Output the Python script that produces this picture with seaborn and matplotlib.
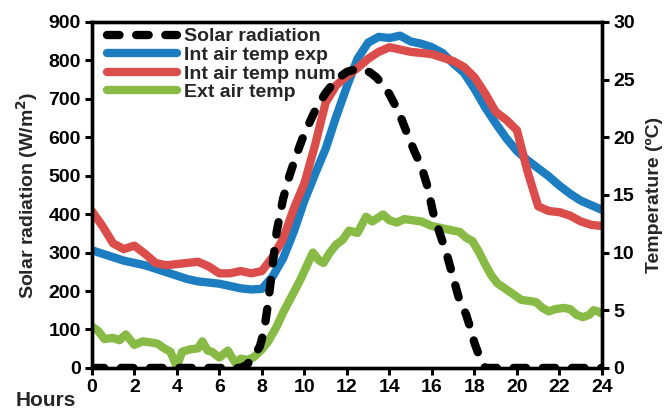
import matplotlib
matplotlib.use("Agg")
import matplotlib.pyplot as plt
import seaborn as sns
import numpy as np

sns.set_theme(style="white")
plt.rcParams['font.family'] = ['Liberation Sans', 'DejaVu Sans']
plt.rcParams['font.weight'] = 'bold'

# ---- data ----
solar_hours = [0, 1, 2, 3, 4, 5, 6, 7, 7.3, 7.6, 7.9, 8.1, 8.3, 8.5, 8.7, 9.0, 9.3, 9.6, 9.9,
               10.3, 10.6, 11.0, 11.5, 12.0, 12.5, 12.8, 13.1, 13.4, 13.7, 14.0, 14.3, 14.6,
               14.9, 15.2, 15.5, 15.8, 16.05, 16.4, 16.7, 17.0, 17.3, 17.6, 17.8, 18.0, 18.2,
               18.4, 18.5, 19, 20, 21, 22, 23, 24]
solar_rad = [0, 0, 0, 0, 0, 0, 0, 0, 8, 30, 55, 95, 170, 265, 355, 440, 500, 550, 595,
             645, 680, 715, 750, 770, 778, 776, 768, 755, 735, 712, 680, 643,
             600, 560, 525, 470, 405, 345, 295, 235, 175, 140, 105, 65, 35,
             10, 0, 0, 0, 0, 0, 0, 0]

int_hours = [0, 0.5, 1, 1.5, 2, 2.5, 3, 3.5, 4, 4.5, 5, 5.5, 6, 6.5, 7, 7.5, 8, 8.5, 9, 9.5,
             10, 10.5, 11, 11.5, 12, 12.5, 13, 13.5, 14, 14.5, 15, 15.5, 16, 16.5, 17, 17.5,
             18, 18.5, 19, 19.5, 20, 20.5, 21, 21.5, 22, 22.5, 23, 23.5, 24]
int_exp = [10.2, 9.9, 9.6, 9.3, 9.1, 8.9, 8.6, 8.3, 8.0, 7.7, 7.5, 7.4, 7.3, 7.1, 6.9, 6.8,
           6.85, 7.9, 9.5, 11.8, 14.5, 16.8, 19.0, 21.8, 24.4, 26.8, 28.2, 28.7, 28.6, 28.8,
           28.3, 28.1, 27.8, 27.3, 26.4, 25.6, 24.2, 22.6, 21.2, 19.9, 18.8, 18.0, 17.3,
           16.6, 15.8, 15.1, 14.5, 14.1, 13.7]
int_num = [13.6, 12.3, 10.8, 10.3, 10.6, 9.9, 9.1, 8.9, 9.0, 9.1, 9.2, 8.8, 8.2, 8.2, 8.4,
           8.2, 8.4, 9.6, 11.2, 13.8, 16.0, 19.3, 23.0, 24.5, 25.3, 26.0, 26.8, 27.4, 27.8,
           27.6, 27.4, 27.3, 27.2, 26.9, 26.6, 26.1, 25.2, 23.8, 22.2, 21.5, 20.6, 17.0,
           14.0, 13.6, 13.5, 13.2, 12.7, 12.4, 12.3]

ext_hours = [0, 0.3, 0.6, 1.0, 1.3, 1.6, 2.0, 2.4, 2.8, 3.1, 3.4, 3.7, 4.0, 4.25, 4.6, 5.0,
             5.2, 5.45, 5.65, 6.0, 6.4, 6.8, 7.0, 7.3, 7.6, 8.0, 8.3, 8.7, 9.0, 9.4, 9.8,
             10.1, 10.4, 10.7, 10.9, 11.2, 11.5, 11.8, 12.1, 12.5, 12.9, 13.2, 13.7, 14.0,
             14.35, 14.7, 15.1, 15.5, 16.0, 16.5, 17.0, 17.3, 17.6, 17.9, 18.2, 18.5, 18.8,
             19.1, 19.5, 19.9, 20.2, 20.6, 20.9, 21.2, 21.5, 21.8, 22.2, 22.5, 22.8, 23.1,
             23.4, 23.6, 23.8, 24]
ext_temp = [3.6, 3.2, 2.5, 2.6, 2.4, 2.9, 2.0, 2.3, 2.2, 2.1, 1.7, 1.4, 0.1, 1.4, 1.6, 1.7,
            2.3, 1.5, 1.4, 0.9, 1.5, 0.3, 0.8, 0.7, 0.9, 1.6, 2.3, 3.6, 4.8, 6.2, 7.6,
            8.8, 10.0, 9.3, 9.1, 10.0, 10.7, 11.1, 11.9, 11.7, 13.1, 12.7, 13.3, 12.8,
            12.6, 12.9, 12.8, 12.7, 12.3, 12.1, 11.9, 11.8, 11.3, 11.0, 10.1, 9.0, 8.0,
            7.3, 6.8, 6.3, 5.9, 5.8, 5.7, 5.2, 4.9, 5.1, 5.2, 5.1, 4.6, 4.4,
            4.6, 5.0, 4.9, 4.7]

x_ticks = list(range(0, 25, 2))
left_ticks = list(range(0, 901, 100))
right_ticks = list(range(0, 31, 5))

# ---- styles ----
C_BLUE = '#1C7DC0'
C_RED = '#DA4D4A'
C_GREEN = '#88BA46'
LW = 6.0
FS = 14

fig = plt.figure(figsize=(6.70, 4.12), dpi=100)
ax = fig.add_axes([0.137, 0.107, 0.7615, 0.840])
ax2 = ax.twinx()

sns.lineplot(x=solar_hours, y=solar_rad, ax=ax, color='black', lw=LW,
             linestyle=(0, (1.5, 2.0)), dash_capstyle='round',
             label='Solar radiation', legend=False, zorder=5)
sns.lineplot(x=int_hours, y=int_exp, ax=ax2, color=C_BLUE, lw=LW,
             label='Int air temp exp', legend=False, solid_joinstyle='round')
sns.lineplot(x=int_hours, y=int_num, ax=ax2, color=C_RED, lw=LW,
             label='Int air temp num', legend=False, solid_joinstyle='round')
sns.lineplot(x=ext_hours, y=ext_temp, ax=ax2, color=C_GREEN, lw=LW,
             label='Ext air temp', legend=False, solid_joinstyle='round')

# put solar line above temperature axes
ax.set_zorder(ax2.get_zorder() + 1)
ax.patch.set_visible(False)

ax.set_xlim(0, 24)
ax.set_ylim(0, 900)
ax2.set_ylim(0, 30)
ax.set_xticks(x_ticks)
ax.set_yticks(left_ticks)
ax2.set_yticks(right_ticks)

for a in (ax, ax2):
    for s in a.spines.values():
        s.set_linewidth(2.4)
        s.set_color('black')
    a.tick_params(axis='both', which='major', direction='out', length=5, width=2.2,
                  labelsize=FS, colors='black', pad=3)
    a.grid(False)
    for lab in a.get_xticklabels() + a.get_yticklabels():
        lab.set_fontweight('bold')
ax.tick_params(axis='y', left=True, right=False)
ax.tick_params(axis='x', bottom=True, top=False)
ax2.tick_params(axis='y', right=True, left=False)

ax.set_xlabel('')
ax.set_ylabel('Solar radiation (W/m$^\\mathbf{2}$)', fontsize=FS, fontweight='bold', labelpad=6)
ax2.set_ylabel('Temperature (ºC)', fontsize=FS, fontweight='bold', labelpad=8)
fig.text(0.024, 0.005, 'Hours', fontsize=FS + 1, fontweight='bold', ha='left', va='bottom')

h1, l1 = ax.get_legend_handles_labels()
h2, l2 = ax2.get_legend_handles_labels()
leg = ax.legend(h1 + h2, l1 + l2, loc='upper left', frameon=False, fontsize=FS,
                handlelength=3.6, handletextpad=0.35, labelspacing=0.05,
                borderaxespad=0.0, bbox_to_anchor=(0.015, 1.005))
for t in leg.get_texts():
    t.set_fontweight('bold')
for lh in leg.get_lines():
    lh.set_linewidth(LW)

fig.savefig('out.png', dpi=100)
